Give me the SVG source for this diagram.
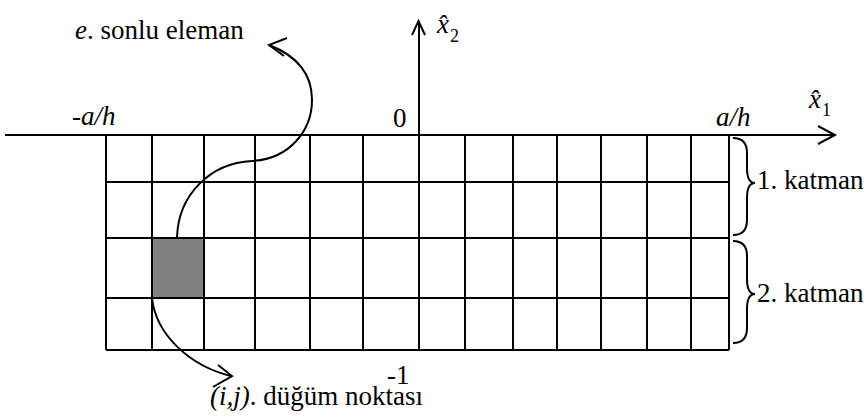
<svg xmlns="http://www.w3.org/2000/svg" width="867" height="417" viewBox="0 0 867 417">
<style>
.ln{stroke:#000;stroke-width:2;fill:none}
text{font-family:'Liberation Serif','DejaVu Serif',serif;font-size:27px;fill:#000}
.i{font-style:italic}
text.s{font-size:18px}
</style>
<rect width="867" height="417" fill="#fff"/>
<g id="element">
<rect x="152" y="238" width="52" height="60" fill="#808080"/>
</g>
<g id="grid" class="ln">
<path d="M106,135V350M152,135V350M204,135V350M255,135V350M310,135V350M363,135V350M419,135V350M465,135V350M513,135V350M557,135V350M601,135V350M647,135V350M691,135V350M729,135V350"/>
<path d="M106,182H729M106,238H729M106,298H729M106,350H729"/>
</g>
<g id="axes" class="ln">
<path d="M5,135H835M818,126L835,135L818,144"/>
<path d="M419,135V21M412,35L418.5,21L425,35"/>
</g>
<g id="braces" class="ln">
<path d="M733,138Q747,138 747,153L747,168Q747,183 755,183Q747,183 747,198L747,220Q747,235 733,235"/>
<path d="M733,241Q747,241 747,256L747,279Q747,294 755,294Q747,294 747,309L747,328Q747,343 733,343"/>
</g>
<g id="connectors" class="ln">
<path d="M177,238C178,195 210,163 252,161C290,159 312,130 312,100C312,72 295,55 269,45"/>
<path d="M287,38L269,45L284,56"/>
<path d="M152,298C156,335 190,366 231,376"/>
<path d="M218,365L232,376L213,387"/>
</g>
<g id="labels">
<text x="75" y="39" font-family="Liberation Serif, serif"><tspan class="i">e</tspan>. sonlu eleman</text>
<text x="72" y="125" class="i">-a/h</text>
<text x="393" y="127">0</text>
<text x="716" y="126" class="i">a/h</text>
<text x="437" y="33" class="i">x̂</text>
<text x="450" y="42" class="s">2</text>
<text x="809" y="108" class="i">x̂</text>
<text x="822" y="116" class="s">1</text>
<text x="757" y="189">1. katman</text>
<text x="757" y="302">2. katman</text>
<text x="387" y="384">-1</text>
<text x="210" y="405"><tspan class="i">(i,j)</tspan>. düğüm noktası</text>
</g>
</svg>
